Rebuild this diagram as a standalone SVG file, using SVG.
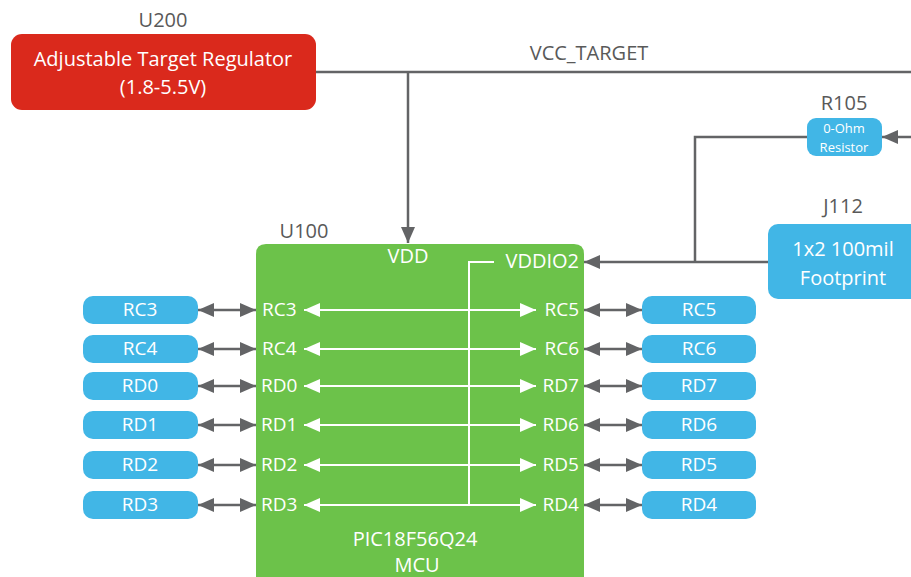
<svg xmlns="http://www.w3.org/2000/svg" width="911" height="577" viewBox="0 0 911 577">
<defs>
<style>
text{font-family:"Open Sans","Liberation Sans",sans-serif;}
.lbl{fill:#595959;font-size:20px;text-anchor:middle;}
.wt{fill:#ffffff;font-size:20px;}
.pt{fill:#ffffff;font-size:19px;}
.mid{text-anchor:middle;}
.end{text-anchor:end;}
.gl{stroke:#636466;stroke-width:2.5;fill:none;}
.wl{stroke:#ffffff;stroke-width:2;fill:none;}
.pin{fill:#41B6E6;}
</style>
<marker id="ga" viewBox="0 0 16 14" refX="16" refY="7" markerUnits="userSpaceOnUse" markerWidth="16" markerHeight="14" orient="auto-start-reverse"><path d="M0,0 L16,7 L0,14 Z" fill="#636466"/></marker>
<marker id="wa" viewBox="0 0 16 14" refX="16" refY="7" markerUnits="userSpaceOnUse" markerWidth="16" markerHeight="14" orient="auto-start-reverse"><path d="M0,0 L16,7 L0,14 Z" fill="#ffffff"/></marker>
</defs>
<rect width="911" height="577" fill="#ffffff"/>

<g id="U200">
<text class="lbl" x="163" y="27">U200</text>
<rect x="11" y="34" width="305" height="76" rx="11" fill="#DA291C"/>
<text class="wt mid" x="163" y="66">Adjustable Target Regulator</text>
<text class="wt mid" x="163" y="94">(1.8-5.5V)</text>
</g>

<g id="U100">
<text class="lbl" x="304" y="238">U100</text>
<path d="M256,577 V254 Q256,244 266,244 H574 Q584,244 584,254 V577 Z" fill="#6CC24A"/>
<text class="wt mid" x="408" y="263">VDD</text>
<text class="wt end" x="579" y="268">VDDIO2</text>
<text class="pt" x="262" y="316">RC3</text>
<text class="pt" x="262" y="355">RC4</text>
<text class="pt" x="261" y="392">RD0</text>
<text class="pt" x="261" y="431">RD1</text>
<text class="pt" x="261" y="471">RD2</text>
<text class="pt" x="261" y="511">RD3</text>
<text class="pt end" x="579" y="316">RC5</text>
<text class="pt end" x="579" y="355">RC6</text>
<text class="pt end" x="579" y="392">RD7</text>
<text class="pt end" x="579" y="431">RD6</text>
<text class="pt end" x="579" y="471">RD5</text>
<text class="pt end" x="579" y="511">RD4</text>
<text class="wt mid" x="415" y="546">PIC18F56Q24</text>
<text class="wt mid" x="417" y="572">MCU</text>
</g>

<g id="R105">
<text class="lbl" x="844" y="110">R105</text>
<rect x="807" y="118" width="75" height="38" rx="9" fill="#41B6E6"/>
<text x="844" y="133" fill="#ffffff" font-size="13" text-anchor="middle">0-Ohm</text>
<text x="844" y="152" fill="#ffffff" font-size="13" text-anchor="middle">Resistor</text>
</g>

<g id="J112">
<text class="lbl" x="843" y="213">J112</text>
<rect x="768" y="224" width="160" height="75" rx="10" fill="#41B6E6"/>
<text class="wt mid" x="843" y="256">1x2 100mil</text>
<text class="wt mid" x="843" y="285">Footprint</text>
</g>

<g id="pins-left">
<rect class="pin" x="83" y="296" width="115" height="28" rx="10"/>
<text class="pt mid" x="140" y="316">RC3</text>
<rect class="pin" x="83" y="335" width="115" height="28" rx="10"/>
<text class="pt mid" x="140" y="355">RC4</text>
<rect class="pin" x="83" y="372" width="115" height="28" rx="10"/>
<text class="pt mid" x="140" y="392">RD0</text>
<rect class="pin" x="83" y="411" width="115" height="28" rx="10"/>
<text class="pt mid" x="140" y="431">RD1</text>
<rect class="pin" x="83" y="451" width="115" height="28" rx="10"/>
<text class="pt mid" x="140" y="471">RD2</text>
<rect class="pin" x="83" y="491" width="115" height="28" rx="10"/>
<text class="pt mid" x="140" y="511">RD3</text>
</g>

<g id="pins-right">
<rect class="pin" x="642" y="296" width="114" height="28" rx="10"/>
<text class="pt mid" x="699" y="316">RC5</text>
<rect class="pin" x="642" y="335" width="114" height="28" rx="10"/>
<text class="pt mid" x="699" y="355">RC6</text>
<rect class="pin" x="642" y="372" width="114" height="28" rx="10"/>
<text class="pt mid" x="699" y="392">RD7</text>
<rect class="pin" x="642" y="411" width="114" height="28" rx="10"/>
<text class="pt mid" x="699" y="431">RD6</text>
<rect class="pin" x="642" y="451" width="114" height="28" rx="10"/>
<text class="pt mid" x="699" y="471">RD5</text>
<rect class="pin" x="642" y="491" width="114" height="28" rx="10"/>
<text class="pt mid" x="699" y="511">RD4</text>
</g>

<g id="connectors">
<text class="lbl" x="589" y="60">VCC_TARGET</text>
<path class="gl" d="M316,72 H911"/>
<path class="gl" d="M408,72 V243" marker-end="url(#ga)"/>
<path class="gl" d="M911,137 H882" marker-end="url(#ga)"/>
<path class="gl" d="M807,137 H695 V262"/>
<path class="gl" d="M768,262 H584" marker-end="url(#ga)"/>
<path class="wl" d="M494,262 H469 V505"/>
<g marker-start="url(#ga)" marker-end="url(#ga)">
<path class="gl" d="M198,310 H256"/>
<path class="gl" d="M198,349 H256"/>
<path class="gl" d="M198,386 H256"/>
<path class="gl" d="M198,425 H256"/>
<path class="gl" d="M198,465 H256"/>
<path class="gl" d="M198,505 H256"/>
<path class="gl" d="M584,310 H642"/>
<path class="gl" d="M584,349 H642"/>
<path class="gl" d="M584,386 H642"/>
<path class="gl" d="M584,425 H642"/>
<path class="gl" d="M584,465 H642"/>
<path class="gl" d="M584,505 H642"/>
</g>
<g marker-start="url(#wa)" marker-end="url(#wa)">
<path class="wl" d="M304,310 H536"/>
<path class="wl" d="M304,349 H536"/>
<path class="wl" d="M304,386 H536"/>
<path class="wl" d="M304,425 H536"/>
<path class="wl" d="M304,465 H536"/>
<path class="wl" d="M304,505 H536"/>
</g>
</g>
</svg>
